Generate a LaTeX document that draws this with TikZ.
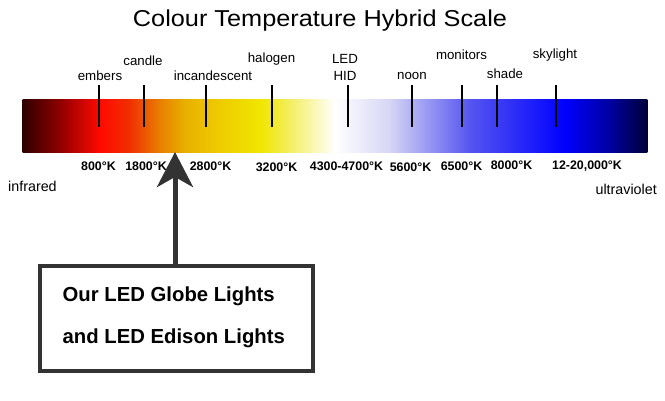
\documentclass[tikz,border=0pt]{standalone}
\usepackage{fontspec}
\setmainfont{Liberation Sans}
\usetikzlibrary{arrows.meta}
\definecolor{c0}{HTML}{300000}
\definecolor{c1}{HTML}{900000}
\definecolor{c2}{HTML}{FF0A00}
\definecolor{c3}{HTML}{F03000}
\definecolor{c4}{HTML}{E88000}
\definecolor{c5}{HTML}{E8B000}
\definecolor{c6}{HTML}{EECC00}
\definecolor{c7}{HTML}{F0E600}
\definecolor{c8}{HTML}{F2EC50}
\definecolor{c9}{HTML}{FFFFFF}
\definecolor{c10}{HTML}{D5D5F5}
\definecolor{c11}{HTML}{5555F0}
\definecolor{c12}{HTML}{0000FF}
\definecolor{c13}{HTML}{0000A0}
\definecolor{c14}{HTML}{000038}
\definecolor{dk}{HTML}{333333}
\tikzset{
  tick/.style={line width=2pt,black},
  lbl/.style={font=\fontsize{13.3}{15}\selectfont,inner sep=0pt},
  side/.style={font=\fontsize{14.3}{16}\selectfont,inner sep=0pt},
  temp/.style={font=\bfseries\fontsize{12.4}{14}\selectfont,inner sep=0pt},
  box/.style={draw=dk,line width=4pt,minimum width=273pt,minimum height=105pt,inner sep=0pt},
  boxtxt/.style={font=\bfseries\fontsize{20.3}{23}\selectfont,inner sep=0pt,anchor=west},
}
\begin{document}
\begin{tikzpicture}[x=1pt,y=-1pt]
\useasboundingbox (0,0) rectangle (665,400);
\fill[white] (0,0) rectangle (665,400);
% gradient bar
\foreach \a/\b/\ca/\cb in {23/60/c0/c1,60/100/c1/c2,100/130/c2/c3,130/160/c3/c4,160/185/c4/c5,185/220/c5/c6,220/260/c6/c7,260/285/c7/c8,285/335/c8/c9,335/390/c9/c10,390/470/c10/c11,470/565/c11/c12,565/610/c12/c13,610/647/c13/c14}
  \shade[left color=\ca,right color=\cb,shading angle=90] (\a-0.3,99) rectangle (\b+0.3,152);
% title
\node[font=\fontsize{23}{26}\selectfont,inner sep=0pt] (title) at (320,21) {\scalebox{1.1}[1]{Colour Temperature Hybrid Scale}};
% ticks
\foreach \n/\x in {emb/99,can/144,inc/206,hal/272,led/348,noo/412,mon/462,sha/497,sky/556}
  \draw[tick] (\x,85) coordinate (\n t) -- (\x,127) coordinate (\n b);
% labels
\node[lbl] (embers) at (100,76) {embers};
\node[lbl] (candle) at (143,61) {candle};
\node[lbl] (incand) at (213,76) {incandescent};
\node[lbl] (halogen) at (271.5,59) {halogen};
\node[lbl] (led) at (345,59) {LED};
\node[lbl] (hid) at (345,76) {HID};
\node[lbl] (noon) at (412,76) {noon};
\node[lbl] (monitors) at (461.5,55) {monitors};
\node[lbl] (shade) at (505,74) {shade};
\node[lbl] (skylight) at (555,55) {skylight};
% temperatures
\node[temp] (t1) at (98.5,166) {800°K};
\node[temp] (t2) at (146,166) {1800°K};
\node[temp] (t3) at (210.5,166) {2800°K};
\node[temp] (t4) at (276.5,167) {3200°K};
\node[temp] (t5) at (346.5,166) {4300-4700°K};
\node[temp] (t6) at (410.5,167) {5600°K};
\node[temp] (t7) at (461.5,166) {6500°K};
\node[temp] (t8) at (511.5,165) {8000°K};
\node[temp] (t9) at (587,166) {12-20,000°K};
\node[side,anchor=west] (ir) at (8,186) {infrared};
\node[side,anchor=east] (uv) at (657,189) {ultraviolet};
% box
\node[box] (box) at (176.5,318.5) {};
\node[boxtxt] (l1) at (62.5,296) {Our LED Globe Lights};
\node[boxtxt] (l2) at (62.5,338) {and LED Edison Lights};
\coordinate (tip) at (175,152);
\draw[dk,line width=5pt,-{Stealth[length=35pt,width=36pt,inset=10pt]}] (tip |- box.north) -- (tip);
\end{tikzpicture}
\end{document}
